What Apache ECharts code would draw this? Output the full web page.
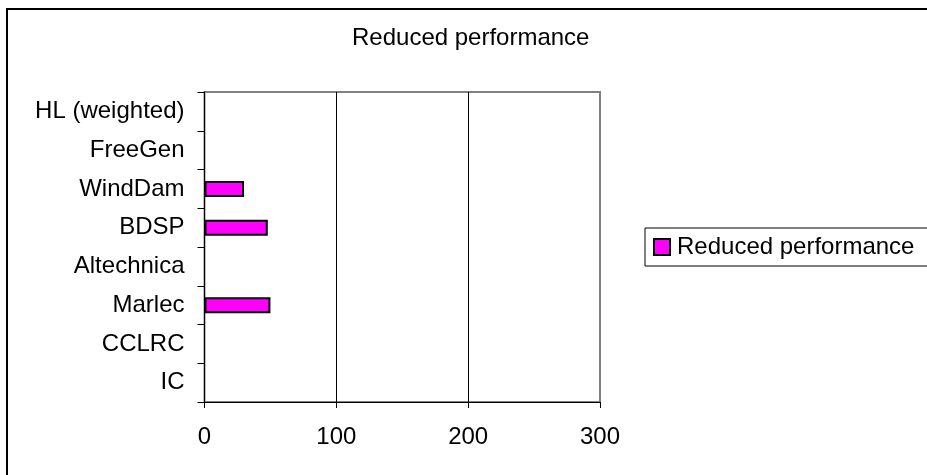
<!DOCTYPE html>
<html>
<head>
<meta charset="utf-8">
<script src="https://cdn.jsdelivr.net/npm/echarts@6/dist/echarts.min.js"></script>
<style>
html,body{margin:0;padding:0;background:#fff;}
#c{width:927px;height:475px;}
</style>
</head>
<body>
<div id="c"></div>
<script>
const chartTitle = 'Reduced performance';
const categories = ['IC', 'CCLRC', 'Marlec', 'Altechnica', 'BDSP', 'WindDam', 'FreeGen', 'HL (weighted)'];
const seriesName = 'Reduced performance';
const values = [null, null, 50, null, 48, 30, null, null];
const xTicks = [0, 100, 200, 300];

const FONT = '"Liberation Sans", Arial, sans-serif';
const chart = echarts.init(document.getElementById('c'), null, {renderer: 'canvas'});
chart.setOption({
  animation: false,
  backgroundColor: '#fff',
  textStyle: {fontFamily: FONT, color: '#000'},
  graphic: [{
    type: 'rect', silent: true,
    shape: {x: 7, y: 9, width: 960, height: 520},
    style: {fill: 'none', stroke: '#000', lineWidth: 2}
  }],
  title: {
    text: chartTitle, left: 352, top: 26, padding: 0,
    textStyle: {fontFamily: FONT, fontSize: 24, fontWeight: 'normal', color: '#000'}
  },
  legend: {
    data: [seriesName], orient: 'vertical', left: 645, top: 228,
    padding: [7, 20, 7, 8], borderColor: '#000', borderWidth: 1,
    itemWidth: 16, itemHeight: 16, icon: 'rect',
    textStyle: {fontFamily: FONT, fontSize: 24, color: '#000', padding: [0, 0, 0, 2]}
  },
  grid: {
    left: 204.5, right: 327, top: 92, bottom: 73, containLabel: false,
    show: true, borderColor: '#808080', borderWidth: 2, backgroundColor: 'transparent'
  },
  xAxis: {
    type: 'value', min: xTicks[0], max: xTicks[xTicks.length - 1], interval: 100,
    axisLine: {show: true, lineStyle: {color: '#000', width: 1}},
    axisTick: {show: true, length: 6, lineStyle: {color: '#000'}},
    axisLabel: {fontFamily: FONT, fontSize: 24, color: '#000', margin: 23},
    splitLine: {show: true, lineStyle: {color: ['#000', '#000', '#000', '#808080'], width: 1}}
  },
  yAxis: {
    type: 'category', data: categories,
    axisLine: {show: true, lineStyle: {color: '#000', width: 1}},
    axisTick: {show: true, length: 7, lineStyle: {color: '#000'}},
    axisLabel: {fontFamily: FONT, fontSize: 24, color: '#000', margin: 20},
    splitLine: {show: false}
  },
  series: [{
    name: seriesName, type: 'bar', data: values, barWidth: 16,
    itemStyle: {color: '#FF00FF', borderColor: '#000', borderWidth: 2}
  }]
});
</script>
</body>
</html>
